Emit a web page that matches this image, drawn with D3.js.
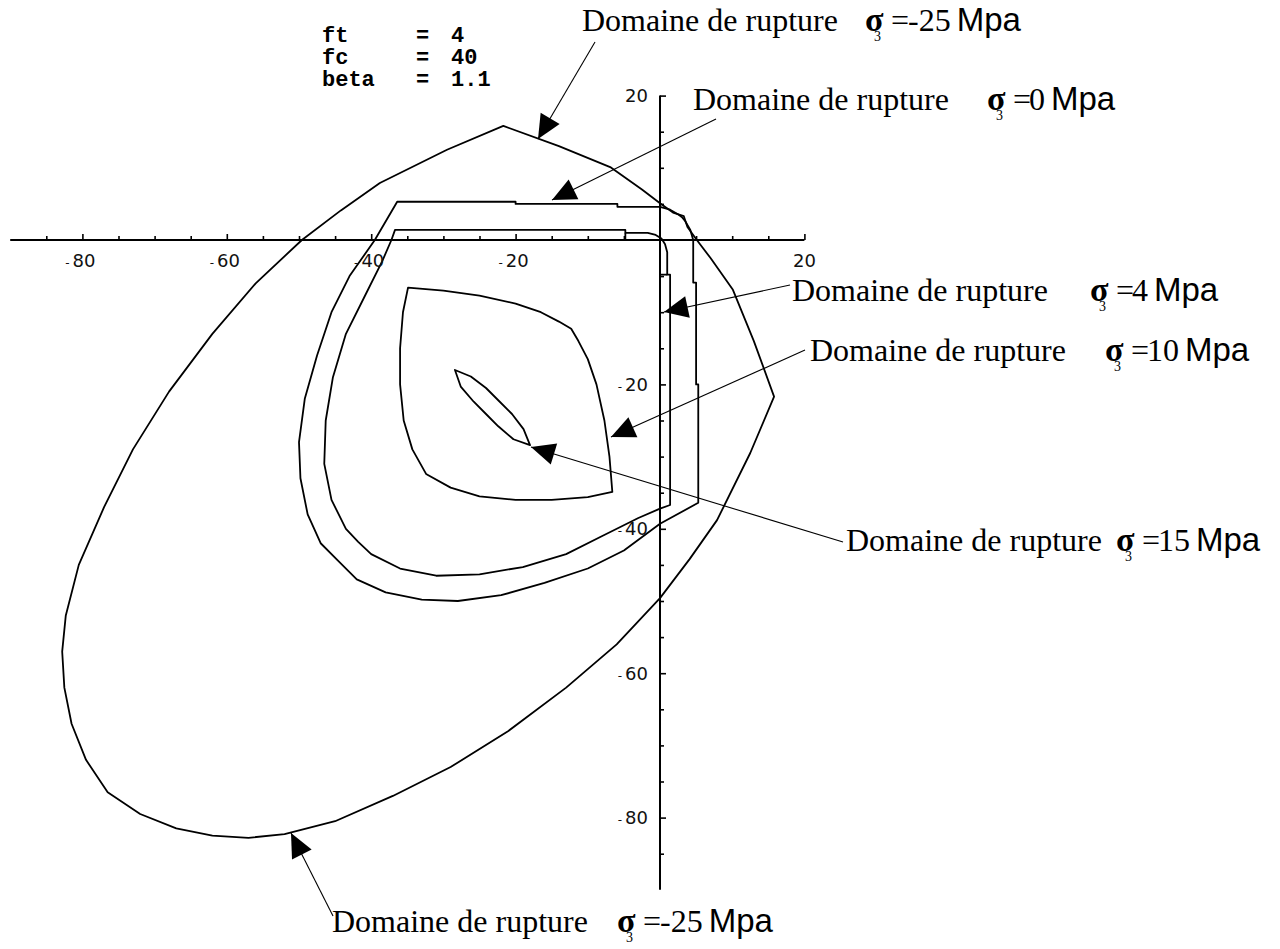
<!DOCTYPE html>
<html>
<head>
<meta charset="utf-8">
<script src="https://cdn.jsdelivr.net/npm/d3@7"></script>
<style>
  html, body { margin: 0; padding: 0; background: #ffffff; }
  svg { display: block; }
</style>
</head>
<body>
<svg id="chart" width="1280" height="949"></svg>
<script>
// Sections of the failure surface in the (sigma1, sigma2) plane, one closed
// contour per confining stress sigma3 (MPa).
const sigma3Levels = ["-25", "0", "4", "10", "15"];

const contourM25 = [
  [-21.7, 15.8], [-14, 13.0], [-6.9, 10.1], [-2.5, 7.0], [0, 5.1], [1.8, 3.8],
  [3.3, 3.3], [3.8, 1.8], [5.1, 0], [7.0, -2.5], [10.1, -6.9], [13.0, -14],
  [15.8, -21.7], [12.5, -29.5], [7.9, -38.8], [4.1, -44.2], [0, -49.6],
  [-6, -56], [-13, -62], [-21, -68], [-29, -73], [-37, -77], [-45, -80.5],
  [-52, -82.3], [-57, -82.8], [-62, -82.5], [-67, -81.5], [-72, -79.5],
  [-76.5, -76.5], [-79.5, -72], [-81.5, -67], [-82.5, -62], [-82.8, -57],
  [-82.3, -52], [-80.5, -45], [-77, -37], [-73, -29], [-68, -21], [-62, -13],
  [-56, -6], [-49.6, 0], [-44.2, 4.1], [-38.8, 7.9], [-29.5, 12.5]
];

const contour0 = [
  [-36.4, 5.3], [-20, 5.3], [-20, 5.0], [-5.9, 5.0], [-5.9, 4.6], [0, 4.6],
  [1.4, 4.2], [2.6, 3.5], [3.1, 3.1], [3.5, 2.6], [4.2, 1.4], [4.6, 0],
  [4.6, -5.9], [5.0, -5.9], [5.0, -20], [5.3, -20], [5.3, -36.4],
  [0, -39.3], [-5, -43], [-10, -45.5], [-16, -47.5], [-22, -49.2], [-28, -50],
  [-33, -49.8], [-38, -48.8], [-42, -47], [-44.5, -44.5], [-47, -42],
  [-48.8, -38], [-49.8, -33], [-50, -28], [-49.2, -22], [-47.5, -16],
  [-45.5, -10], [-43, -5], [-39.5, 0]
];

const contour4 = [
  [-36.7, 1.4], [-4.8, 1.4], [-4.8, 1.0], [-1.7, 1.0], [-0.6, 0.7], [0.2, 0.2],
  [0.7, -0.6], [1.0, -1.7], [1.0, -4.8], [1.4, -4.8], [1.4, -36.7],
  [0, -37.2], [-3, -38.5], [-8, -41], [-13, -43.5], [-19, -45.3], [-25, -46.3],
  [-31, -46.5], [-36, -45.5], [-40, -43.5], [-41.8, -41.8], [-43.5, -40],
  [-45.5, -36], [-46.5, -31], [-46.3, -25], [-45.3, -19], [-43.5, -13],
  [-41, -8], [-38.5, -3], [-37.2, 0]
];

// short spurs of the sigma3 = 4 contour running onto the axes
const contour4Spurs = [
  [[-4.8, 1.0], [-4.8, 0]],
  [[1.0, -4.8], [0, -4.8]]
];

const contour10 = [
  [-34.9, -6.6], [-30, -7.0], [-25, -7.7], [-20, -8.8], [-16.5, -10],
  [-14, -11.3], [-12.3, -12.3], [-11.3, -14], [-10, -16.5], [-8.8, -20],
  [-7.7, -25], [-7.0, -30], [-6.6, -34.9], [-10, -35.6], [-15, -36],
  [-20, -36], [-25, -35.5], [-29, -34.3], [-32.4, -32.4], [-34.3, -29],
  [-35.5, -25], [-36, -20], [-36, -15], [-35.6, -10]
];

const contour15 = [
  [-28.4, -18], [-26.2, -18.9], [-24.1, -20.5], [-22.3, -22.3], [-20.5, -24.1],
  [-18.9, -26.2], [-18, -28.4], [-20.3, -27.6], [-22.4, -25.8], [-24.1, -24.1],
  [-25.8, -22.4], [-27.6, -20.3]
];

const xTickLabels = [-80, -60, -40, -20, 20];
const yTickLabels = [20, -20, -40, -60, -80];
const minorTicks = [-85, -75, -70, -65, -55, -50, -45, -35, -30, -25, -15, -10, -5, 5, 10, 15];

const paramNames = ["ft", "fc", "beta"];
const paramValues = ["4", "40", "1.1"];

// ---------------------------------------------------------------------------
const svg = d3.select("#chart");

const x = d3.scaleLinear().domain([-90, 20]).range([10.2, 804.4]);
const y = d3.scaleLinear().domain([-90, 20]).range([889.8, 95.6]);

const ink = "#000";
const tickFont = "'DejaVu Sans', 'Liberation Sans', sans-serif";
const serif = "'Liberation Serif', 'Times New Roman', serif";
const sans = "'Liberation Sans', Arial, sans-serif";

// contours
const closed = d3.line().x(d => x(d[0])).y(d => y(d[1])).curve(d3.curveLinearClosed);
const open = d3.line().x(d => x(d[0])).y(d => y(d[1]));

const contours = [contourM25, contour0, contour4, contour10, contour15];
svg.append("g").attr("class", "contours")
  .selectAll("path").data(contours).join("path")
  .attr("d", closed)
  .attr("fill", "none").attr("stroke", ink).attr("stroke-width", 1.8)
  .attr("stroke-linejoin", "round");

svg.append("g").selectAll("path").data(contour4Spurs).join("path")
  .attr("d", open).attr("fill", "none").attr("stroke", ink).attr("stroke-width", 1.8);

// axes crossing at the origin, ticks on the inner side
const axes = svg.append("g").attr("class", "axes");
axes.append("line")
  .attr("x1", x(-90)).attr("x2", x(20)).attr("y1", y(0)).attr("y2", y(0))
  .attr("stroke", ink).attr("stroke-width", 2);
axes.append("line")
  .attr("x1", x(0)).attr("x2", x(0)).attr("y1", y(20)).attr("y2", y(-90))
  .attr("stroke", ink).attr("stroke-width", 2);

function styleAxis(g) {
  g.select(".domain").remove();
  g.selectAll(".tick line").attr("stroke", ink).attr("stroke-width", 1.6);
}

axes.append("g").attr("transform", `translate(0,${y(0)})`)
  .call(d3.axisTop(x).tickValues(minorTicks).tickSize(4).tickFormat(""))
  .call(styleAxis);
axes.append("g").attr("transform", `translate(0,${y(0)})`)
  .call(d3.axisTop(x).tickValues(xTickLabels).tickSize(6).tickFormat(""))
  .call(styleAxis);
axes.append("g").attr("transform", `translate(${x(0)},0)`)
  .call(d3.axisRight(y).tickValues(minorTicks).tickSize(4).tickFormat(""))
  .call(styleAxis);
axes.append("g").attr("transform", `translate(${x(0)},0)`)
  .call(d3.axisRight(y).tickValues(yTickLabels).tickSize(6).tickFormat(""))
  .call(styleAxis);

function tickText(sel, v) {
  if (v < 0) {
    sel.append("tspan").attr("font-size", 12).text("-");
    sel.append("tspan").attr("dx", 3).text(Math.abs(v));
  } else {
    sel.text(v);
  }
}

axes.append("g").selectAll("text").data(xTickLabels).join("text")
  .attr("x", d => x(d) + (d < 0 ? -2 : 0)).attr("y", y(0) + 27)
  .attr("text-anchor", "middle")
  .attr("font-family", tickFont).attr("font-size", 18).attr("fill", "#111")
  .each(function(d) { tickText(d3.select(this), d); });

axes.append("g").selectAll("text").data(yTickLabels).join("text")
  .attr("x", x(0) - 12).attr("y", d => y(d)).attr("dy", "0.36em")
  .attr("text-anchor", "end")
  .attr("font-family", tickFont).attr("font-size", 18).attr("fill", "#111")
  .each(function(d) { tickText(d3.select(this), d); });

// parameter block
const params = svg.append("g").attr("font-family", "'Liberation Mono', 'DejaVu Sans Mono', monospace")
  .attr("font-size", 22).attr("font-weight", "bold").attr("fill", ink);
paramNames.forEach((name, i) => {
  const by = 42 + i * 22;
  params.append("text").attr("x", 322).attr("y", by).text(name);
  params.append("text").attr("x", 416).attr("y", by).text("=");
  params.append("text").attr("x", 451).attr("y", by).text(paramValues[i]);
});

// annotations: label text and arrow pointing at the matching contour
const annotations = [
  { level: sigma3Levels[0], tx: 582, ty: 31,  sx: 865,  from: [595, 42],  tip: [538, 139] },
  { level: sigma3Levels[1], tx: 693, ty: 110, sx: 987,  from: [716, 119], tip: [552, 200] },
  { level: sigma3Levels[2], tx: 792, ty: 301, sx: 1090, from: [790, 285], tip: [664, 312] },
  { level: sigma3Levels[3], tx: 810, ty: 361, sx: 1105, from: [805, 350], tip: [611, 437] },
  { level: sigma3Levels[4], tx: 846, ty: 551, sx: 1116, from: [843, 542], tip: [531, 447] },
  { level: sigma3Levels[0], tx: 332, ty: 932, sx: 617,  from: [333, 916], tip: [291, 833] }
];

const notes = svg.append("g").attr("class", "annotations");
annotations.forEach(a => {
  const g = notes.append("g");
  // arrow shaft
  g.append("line")
    .attr("x1", a.from[0]).attr("y1", a.from[1])
    .attr("x2", a.tip[0]).attr("y2", a.tip[1])
    .attr("stroke", ink).attr("stroke-width", 1.1);
  // filled arrow head
  const dx = a.tip[0] - a.from[0], dy = a.tip[1] - a.from[1];
  const len = Math.hypot(dx, dy);
  const ux = dx / len, uy = dy / len;
  const L = 24, Wd = 11;
  const bx = a.tip[0] - ux * L, by = a.tip[1] - uy * L;
  g.append("path")
    .attr("d", `M${a.tip[0]},${a.tip[1]}L${bx - uy * Wd},${by + ux * Wd}L${bx + uy * Wd},${by - ux * Wd}Z`)
    .attr("fill", ink);

  // "Domaine de rupture  σ3 = value Mpa" as one text run
  const neg = a.level.startsWith("-");
  const t = g.append("text").attr("x", a.tx).attr("y", a.ty)
    .attr("font-family", serif).attr("font-size", 32).attr("fill", ink);
  t.append("tspan").text("Domaine de rupture");
  t.append("tspan").attr("x", a.sx).attr("font-weight", "bold").attr("font-size", 34).text("σ");
  t.append("tspan").attr("x", a.sx + 9).attr("dy", 10).attr("font-size", 14).text("3");
  t.append("tspan").attr("x", a.sx + 26).attr("dy", -10).text("=");
  t.append("tspan").attr("x", a.sx + (neg ? 43 : 42)).text(a.level);
  t.append("tspan").attr("dx", 6).attr("font-family", sans).attr("font-size", 33).text("Mpa");
});
</script>
</body>
</html>
